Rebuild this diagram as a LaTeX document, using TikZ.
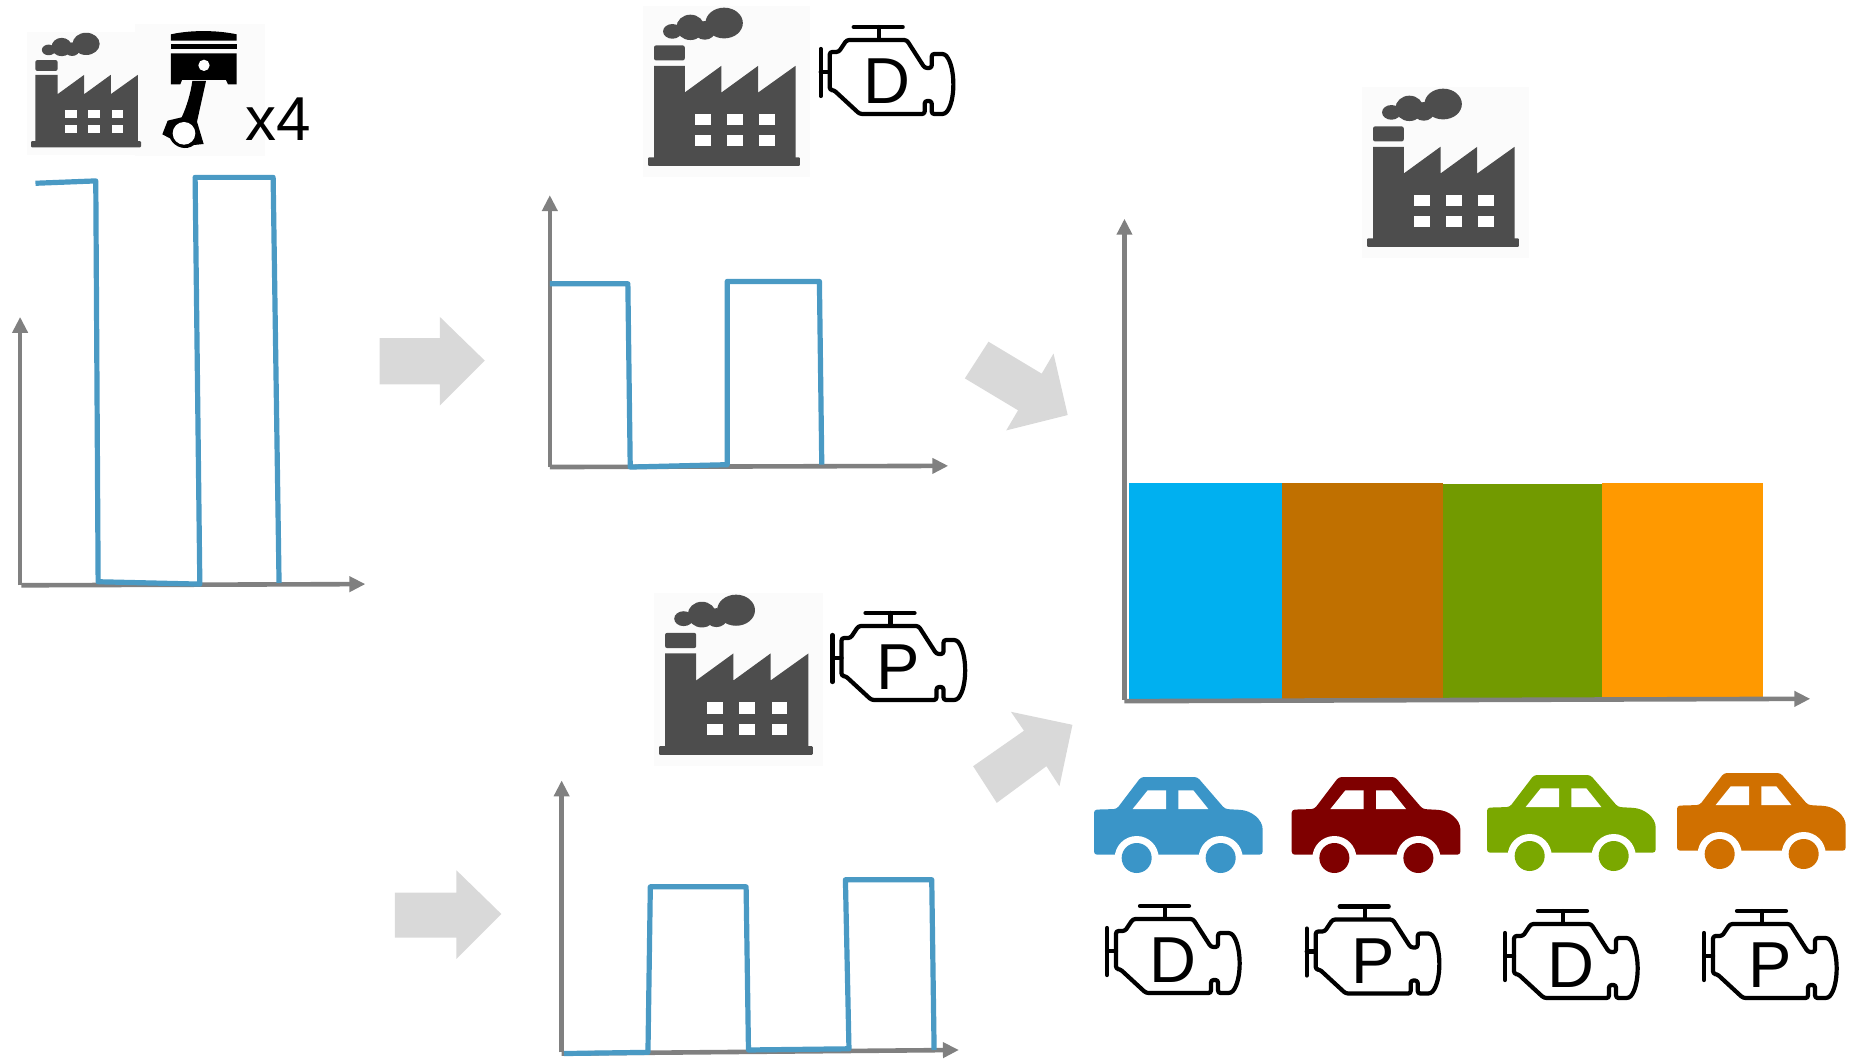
\documentclass[tikz,border=0pt]{standalone}
\usepackage{fontspec}
\setmainfont{Liberation Sans}
\usetikzlibrary{arrows.meta}
\definecolor{fac}{HTML}{4D4D4D}
\definecolor{axisc}{HTML}{808080}
\definecolor{linec}{HTML}{4A9AC4}
\definecolor{blockc}{HTML}{D9D9D9}
\definecolor{carblue}{HTML}{3A95C8}
\definecolor{carred}{HTML}{7F0000}
\definecolor{cargreen}{HTML}{7AA800}
\definecolor{carorange}{HTML}{D07000}
\definecolor{barblue}{HTML}{00B0F0}
\definecolor{barbrown}{HTML}{C07000}
\definecolor{bargreen}{HTML}{729A00}
\definecolor{barorange}{HTML}{FF9900}
\definecolor{faintbg}{HTML}{FBFBFB}
\tikzset{
  shown/.style={x=1.1824pt,y=-1.1824pt},
  axisline/.style={draw=axisc,line width=4.6pt,-{Triangle[length=16pt,width=15pt]}},
  sigline/.style={draw=linec,line width=5.2pt,line join=round},
  blockarrow/.style={fill=blockc},
  bar/.style={fill=#1},
  enginefont/.style={font=\fontsize{65}{65}\selectfont,inner sep=0pt,anchor=base},
  factoryicon/.pic={
    \begin{scope}[shift={(-55,-25)}]
      \fill[faintbg] (40,20) rectangle (540,530);
      \fill[fac,rounded corners=1pt] (55,472) rectangle (510,498);
      \fill[fac] (73,198) -- (165,198) -- (165,278) -- (275,198) -- (275,278) -- (385,198) -- (385,278) -- (497,198) -- (497,475) -- (73,475) -- cycle;
      \fill[fac,rounded corners=2pt] (73,137) rectangle (165,182);
      \fill[fac] (128,95) ellipse [x radius=28,y radius=22];
      \fill[fac] (182,83) ellipse [x radius=42,y radius=38];
      \fill[fac] (225,92) ellipse [x radius=32,y radius=28];
      \fill[fac] (283,70) ellipse [x radius=56,y radius=46];
      \foreach \wx/\wy/\wz in {196/245/343,292/340/343,388/434/343,196/245/406,292/340/406,388/434/406}
        \fill[white] (\wx,\wz) rectangle (\wy,\wz+33);
    \end{scope}
  },
  engineicon/.pic={
    \draw[black,line width=4.2pt,line cap=round,line join=round]
      (33,0) -- (82,0)
      (58,0) -- (58,12);
    \draw[black,line width=4.2pt,line cap=round,line join=round,rounded corners=2.5pt]
      (26,13) -- (86,13) -- (104,41) -- (111,41) -- (111,27) -- (124,27)
        .. controls (135,40) and (135,75) .. (124,87) -- (111,87) -- (111,74) -- (104,74) -- (104,87) -- (39,87) -- (13,63) -- (9,63) -- (9,25) -- (18,25) -- cycle;
    \draw[black,line width=4.2pt,line cap=round]
      (0,22) -- (0,69)
      (0,45) -- (9,45);
    \node[enginefont] (-letter) at (66,76.5) {#1};
  },
  caricon/.pic={
    \begin{scope}[shift={(-42,-52)}]
      \fill[#1,rounded corners=3pt] (42,150) -- (110,148) -- (183,52) -- (352,52) -- (435,148) -- (470,150) .. controls (515,152) and (548,180) .. (548,218) -- (548,285) -- (42,285) -- cycle;
      \fill[white] (158,148) -- (203,92) -- (258,92) -- (258,148) -- cycle;
      \fill[white] (295,92) -- (340,92) -- (385,148) -- (295,148) -- cycle;
      \fill[white] (170,295) circle [radius=66];
      \fill[white] (422,295) circle [radius=66];
      \fill[#1] (170,295) circle [radius=45];
      \fill[#1] (422,295) circle [radius=45];
    \end{scope}
  }
}
\begin{document}
\begin{tikzpicture}[x=1pt,y=-1pt]
\useasboundingbox (0,0) rectangle (1854,1059);
% icons, top left
\begin{scope}[scale=1/3]
  \fill[faintbg] (405,72) rectangle (795,468);
\end{scope}
\pic[scale=.2418] at (31,33) {factoryicon};
\begin{scope}[scale=1/3]
  \fill[black] (513,122) -- (513,103) .. controls (570,90) and (650,90) .. (710,103) -- (710,122) -- cycle;
  \fill[black] (513,133) rectangle (710,147);
  \fill[black] (513,160) -- (710,160) -- (710,253) -- (684,253) -- (678,240) -- (546,240) -- (541,253) -- (513,253) -- cycle;
  \fill[white] (612,196) circle [radius=17];
  \fill[black] (577,243) -- (618,243) -- (591,365) -- (611,432) -- (582,435) .. controls (560,452) and (525,445) .. (510,415) -- (487,403) -- (503,362) -- (545,352) .. controls (560,320) and (572,280) .. (577,243) -- cycle;
  \fill[white] (552,400) circle [radius=34];
\end{scope}
\node[font=\fontsize{62}{62}\selectfont,inner sep=0pt,anchor=base west] (times) at (245,141) {x4};
% other factories
\pic[scale=.334] at (648,8) {factoryicon};
\pic[scale=.338] at (659,595) {factoryicon};
\pic[scale=.334] at (1367,89) {factoryicon};
% engines
\pic (ed1) at (820.7,27) {engineicon=D};
\pic (ep1) at (832.5,613) {engineicon=P};
\pic (ed2) at (1107,906) {engineicon=D};
\pic (ep2) at (1306.7,906.5) {engineicon=P};
\pic (ed3) at (1505,911) {engineicon=D};
\pic (ep3) at (1704,911) {engineicon=P};
% cars
\pic[scale=1/3] at (1094,777) {caricon=carblue};
\pic[scale=1/3] at (1291.7,777) {caricon=carred};
\pic[scale=1/3] at (1487,775) {caricon=cargreen};
\pic[scale=1/3] at (1677,773) {caricon=carorange};
\begin{scope}[shown]
  % block arrows
  \fill[blockarrow] (321,286) -- (372,286) -- (372,268) -- (410,305) -- (372,343) -- (372,325) -- (321,325) -- cycle;
  \fill[blockarrow] (334,755) -- (386,755) -- (386,736) -- (424,773) -- (386,811) -- (386,793) -- (334,793) -- cycle;
  \fill[blockarrow] (816,320) -- (836,289) -- (881,316) -- (891,299) -- (903,351) -- (851,364) -- (861,347) -- cycle;
  \fill[blockarrow] (823,648) -- (866,618) -- (855,602) -- (907,613) -- (896,665) -- (885,648) -- (843,679) -- cycle;
  % chart 1
  \draw[axisline] (17,495) -- (17,268);
  \draw[axisline] (18,495) -- (309,494);
  \draw[sigline] (30,155) -- (81,153) -- (83,492) -- (169,494) -- (165,150) -- (231,150) -- (236,493);
  % chart 2
  \draw[axisline] (465,395) -- (465,165);
  \draw[axisline] (465,395) -- (802,394);
  \draw[sigline] (465,240) -- (531,240) -- (533,395) -- (615,393) -- (615,238) -- (693,238) -- (695,393);
  % chart 3
  \draw[axisline] (475,890) -- (475,660);
  \draw[axisline] (475,891) -- (811,888);
  \draw[sigline] (477,891) -- (548,890) -- (550,750) -- (631,750) -- (633,888) -- (718,887) -- (715,744) -- (788,744) -- (790,888);
  % chart 4
  \fill[bar=barblue] (955,408.5) rectangle (1084,591);
  \fill[bar=barbrown] (1084,408.5) rectangle (1220,591);
  \fill[bar=bargreen] (1220,409.5) rectangle (1355,591);
  \fill[bar=barorange] (1355,408.5) rectangle (1491,590);
  \draw[axisline] (951,592) -- (951,185);
  \draw[axisline] (951,593) -- (1531,591);
\end{scope}
\end{tikzpicture}
\end{document}
